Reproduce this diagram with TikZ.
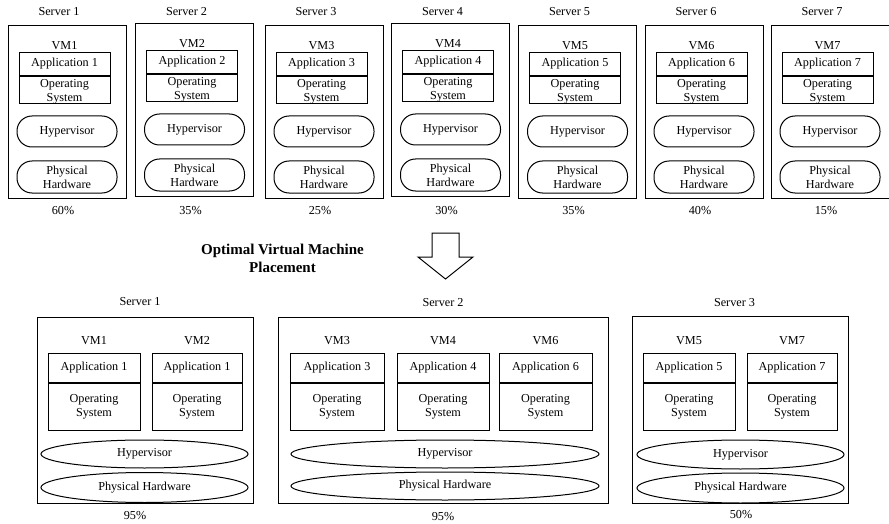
\documentclass[tikz,border=0pt]{standalone}
\usepackage{fontspec}
\setmainfont{Liberation Serif}
\usepackage{tikz}
\usetikzlibrary{positioning, shapes.geometric}

\begin{document}
\begin{tikzpicture}[x=1pt, y=-1pt,
  every node/.style={font=\fontsize{12.2}{14}\selectfont},
  srv/.style={draw, line width=1pt, inner sep=0pt},
  box/.style={draw, line width=1pt, inner sep=1pt, align=center},
  pill/.style={draw, line width=1pt, rounded corners=15pt, inner sep=1pt, align=center},
  oval/.style={draw, ellipse, line width=1pt, inner sep=0pt},
  lbl/.style={inner sep=0pt}]
\useasboundingbox (0,0) rectangle (889,524);
\foreach \i/\x/\ty/\pc in {1/67/25/60, 2/194.5/23/35, 3/324/25/25, 4/450.5/23/30, 5/577.5/25/35, 6/704/25/40, 7/830/25/15} {
  \node[srv, minimum width=118pt, minimum height=173pt, anchor=north] (s\i) at (\x,\ty) {};
  \node[lbl] (sl\i) at (\x-8,12) {Server \i};
  \node[box, minimum width=91pt, minimum height=23pt, anchor=north] (a\i) at (\x-2.5,\ty+27) {Application \i};
  \node[box, minimum width=91pt, minimum height=27pt, anchor=north] (o\i) at (a\i.south) {};
  \node[lbl, align=center] (ot\i) at ([yshift=-1.5pt]o\i.center) {Operating\\System};
  \node[lbl, anchor=base] (v\i) at ([yshift=2pt]a\i.north) {VM\i};
  \node[pill, minimum width=100pt, minimum height=31pt] (h\i) at (\x,\ty+106.5) {Hypervisor};
  \node[pill, minimum width=100pt, minimum height=32pt] (p\i) at (\x,\ty+152) {Physical\\Hardware};
  \node[lbl] (u\i) at (\x-4,211) {\pc\%};
}
\node[lbl, align=center, font=\bfseries\fontsize{15}{18}\selectfont] (title) at (282.5,258) {Optimal Virtual Machine\\Placement};
\draw[line width=1pt] (432,233) -- (459,233) -- (459,257) -- (473,257) -- (445.5,279) -- (418,257) -- (432,257) -- cycle;
\node[srv, minimum width=216pt, minimum height=186pt] (b1) at (145,410) {};
\node[srv, minimum width=330pt, minimum height=186pt] (b2) at (443,410) {};
\node[srv, minimum width=216pt, minimum height=187pt] (b3) at (740,409.5) {};
\node[lbl] (bl1) at (140,302) {Server 1};
\node[lbl] (bl2) at (443,303) {Server 2};
\node[lbl] (bl3) at (734.5,303) {Server 3};
\foreach \v/\x/\w/\n in {1/94/92/1, 2/197/90/1, 3/337/94/3, 4/443/92/4, 6/545.5/93/6, 5/689/92/5, 7/792/90/7} {
  \node[box, minimum width=\w pt, minimum height=29pt, anchor=north] (ba\v) at (\x,353) {Application \n};
  \node[box, minimum width=\w pt, minimum height=47pt, anchor=north] (bo\v) at (ba\v.south) {Operating\\System};
  \node[lbl, anchor=base] (bv\v) at ([yshift=9pt]ba\v.north) {VM\v};
}
\node[oval, minimum width=207pt, minimum height=28pt] (bh1) at (144.5,454) {Hypervisor};
\node[oval, minimum width=207pt, minimum height=30pt] (bp1) at (144.5,487.5) {Physical Hardware};
\node[oval, minimum width=308pt, minimum height=28pt] (bh2) at (445,454) {Hypervisor};
\node[oval, minimum width=308pt, minimum height=28pt] (bp2) at (445,486) {Physical Hardware};
\node[oval, minimum width=207pt, minimum height=29pt] (bh3) at (740.5,454.5) {Hypervisor};
\node[oval, minimum width=207pt, minimum height=30pt] (bp3) at (740.5,488) {Physical Hardware};
\node[lbl] (bu1) at (135,516) {95\%};
\node[lbl] (bu2) at (443,517) {95\%};
\node[lbl] (bu3) at (741,515) {50\%};
\end{tikzpicture}
\end{document}
